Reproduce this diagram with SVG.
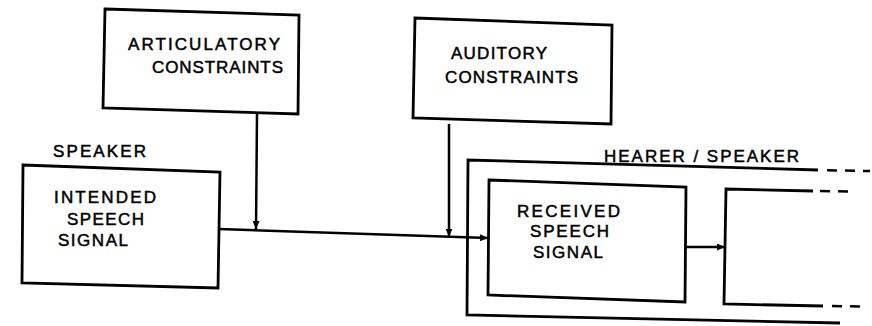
<svg xmlns="http://www.w3.org/2000/svg" width="872" height="326" viewBox="0 0 872 326">
<defs>
<style>
.box{fill:none;stroke:#000;stroke-width:2.8;stroke-linejoin:miter}
.ln{fill:none;stroke:#000;stroke-width:2.5}
.dash{fill:none;stroke:#000;stroke-width:2.5;stroke-dasharray:10 8}
.t{font-family:"Liberation Sans",Arial,sans-serif;font-size:17px;fill:#000;stroke:#000;stroke-width:0.5}
</style>
<marker id="ah" markerUnits="userSpaceOnUse" markerWidth="9" markerHeight="7" refX="8" refY="3.5" orient="auto">
<path d="M0,0 L8,3.5 L0,7 Z" fill="#000"/>
</marker>
</defs>
<rect width="872" height="326" fill="#fff"/>

<g id="articulatory">
<path class="box" d="M105,9 L299,15 L298,114 L103,108 Z"/>
<text class="t" x="128" y="50" textLength="152" lengthAdjust="spacing">ARTICULATORY</text>
<text class="t" x="152" y="73" textLength="131" lengthAdjust="spacing">CONSTRAINTS</text>
</g>

<g id="speaker">
<text class="t" x="53" y="157" textLength="93" lengthAdjust="spacing">SPEAKER</text>
<path class="box" d="M23,165 L220,172 L218,288 L22,283 Z"/>
<text class="t" x="54" y="203" textLength="102" lengthAdjust="spacing">INTENDED</text>
<text class="t" x="67" y="225" textLength="77" lengthAdjust="spacing">SPEECH</text>
<text class="t" x="58" y="246" textLength="70" lengthAdjust="spacing">SIGNAL</text>
</g>

<g id="auditory">
<path class="box" d="M415,18 L612,25 L611,124 L413,118 Z"/>
<text class="t" x="451" y="59" textLength="96" lengthAdjust="spacing">AUDITORY</text>
<text class="t" x="445" y="83" textLength="133" lengthAdjust="spacing">CONSTRAINTS</text>
</g>

<g id="hearer-speaker">
<text class="t" x="604" y="162" textLength="195" lengthAdjust="spacing">HEARER / SPEAKER</text>
<path class="box" d="M818,170 L468,160 L467,315 L840,323"/>
<path class="dash" d="M827,170.3 L870,171"/>
</g>

<g id="received">
<path class="box" d="M489,180 L686,187 L685,302 L488,295 Z"/>
<text class="t" x="517" y="217" textLength="103" lengthAdjust="spacing">RECEIVED</text>
<text class="t" x="530" y="237" textLength="79" lengthAdjust="spacing">SPEECH</text>
<text class="t" x="533" y="258" textLength="70" lengthAdjust="spacing">SIGNAL</text>
</g>

<g id="next-stage">
<path class="box" d="M813,191 L726,189 L724,304 L823,306"/>
<path class="dash" d="M820,191 L850,191.5"/>
<path class="dash" d="M832,306 L860,306.5"/>
</g>

<g id="connectors">
<path class="ln" d="M257,114 L256,229" marker-end="url(#ah)"/>
<path class="ln" d="M449,124 L449,236.7" marker-end="url(#ah)"/>
<path class="ln" d="M219,229 L488,238" marker-end="url(#ah)"/>
<path class="ln" d="M686,247 L725,247" marker-end="url(#ah)"/>
</g>
</svg>
